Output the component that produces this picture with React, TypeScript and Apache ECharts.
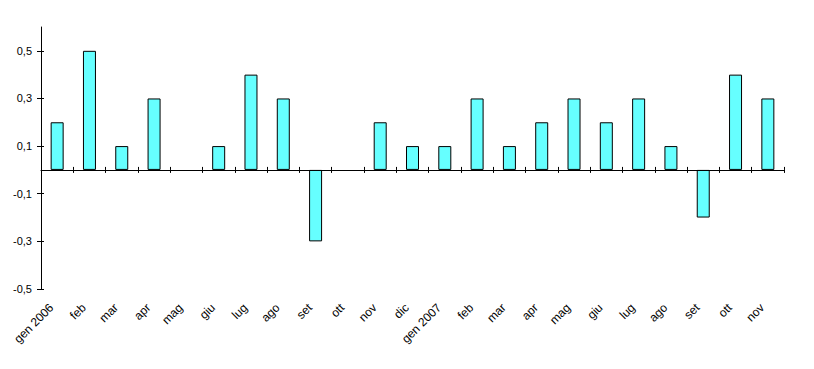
import React, { useEffect, useRef } from "react";
import * as echarts from "echarts";

const categories = [
  "gen 2006", "feb", "mar", "apr", "mag", "giu", "lug", "ago", "set", "ott", "nov", "dic",
  "gen 2007", "feb", "mar", "apr", "mag", "giu", "lug", "ago", "set", "ott", "nov",
];
const values = [
  0.2, 0.5, 0.1, 0.3, 0, 0.1, 0.4, 0.3, -0.3, 0, 0.2, 0.1,
  0.1, 0.3, 0.1, 0.2, 0.3, 0.2, 0.3, 0.1, -0.2, 0.4, 0.3,
];
const yTicks = [-0.5, -0.3, -0.1, 0.1, 0.3, 0.5];

const FONT = "Liberation Sans";

export default function App() {
  const ref = useRef<HTMLDivElement>(null);
  useEffect(() => {
    if (!ref.current) return;
    const chart = echarts.init(ref.current, null, { renderer: "svg" });
    const lineStyle = { color: "#000", width: 1 };
    chart.setOption({
      animation: false,
      backgroundColor: "#fff",
      grid: { left: 41, right: 30, top: 27, bottom: 80, containLabel: false },
      xAxis: [
        {
          type: "category",
          data: categories,
          position: "bottom",
          z: 5,
          axisLine: { show: true, onZero: true, lineStyle },
          axisTick: { show: true, inside: false, interval: 0, length: 3, lineStyle },
          axisLabel: { show: false, interval: 0 },
          splitLine: { show: false },
        },
        {
          type: "category",
          data: categories,
          position: "bottom",
          z: 5,
          axisLine: { show: true, onZero: true, lineStyle: { color: "rgba(0,0,0,0)", width: 1 } },
          axisTick: { show: true, inside: true, interval: 0, length: 3, lineStyle },
          axisLabel: { show: false, interval: 0 },
          splitLine: { show: false },
        },
        {
          type: "category",
          data: categories,
          position: "bottom",
          axisLine: { show: false, onZero: false },
          axisTick: { show: false },
          axisLabel: {
            show: true,
            rotate: 45,
            interval: 0,
            margin: 11,
            padding: [0, 8, 0, 0],
            fontFamily: FONT,
            fontSize: 12,
            color: "#000",
          },
          splitLine: { show: false },
        },
      ],
      yAxis: [
        {
          type: "value",
          min: -0.5,
          max: 0.6,
          position: "left",
          axisLine: { show: true, lineStyle },
          axisTick: { show: true, inside: false, length: 4, lineStyle, customValues: yTicks },
          axisLabel: {
            show: true,
            customValues: yTicks,
            margin: 9,
            fontFamily: FONT,
            fontSize: 11,
            color: "#000",
            formatter: (v: number) => v.toFixed(1).replace(".", ","),
          },
          splitLine: { show: false },
        },
        {
          type: "value",
          min: -0.5,
          max: 0.6,
          position: "left",
          axisLine: { show: false },
          axisTick: { show: true, inside: true, length: 3, lineStyle, customValues: yTicks },
          axisLabel: { show: false, customValues: yTicks },
          splitLine: { show: false },
        },
      ],
      series: [
        {
          type: "bar",
          xAxisIndex: 0,
          yAxisIndex: 0,
          z: 2,
          data: values.map((v) => (v === 0 ? "-" : v)),
          barWidth: 13,
          itemStyle: { color: "#66FFFF", borderColor: "#000", borderWidth: 1 },
        },
      ],
    });
    return () => chart.dispose();
  }, []);
  return (
    <div
      ref={ref}
      style={{ position: "fixed", left: 0, top: 0, width: 814, height: 369, background: "#fff" }}
    />
  );
}
